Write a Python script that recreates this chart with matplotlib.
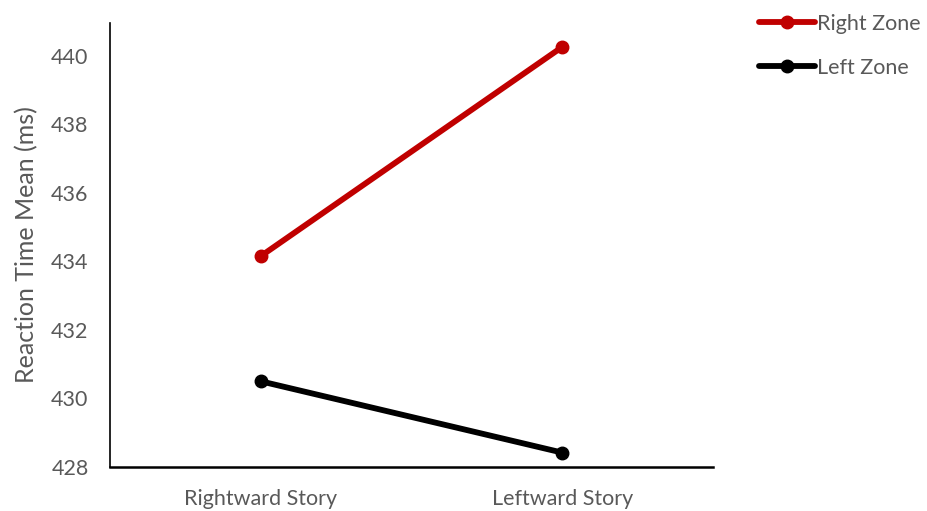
import matplotlib
matplotlib.use("Agg")
import matplotlib.pyplot as plt

categories = ["Rightward Story", "Leftward Story"]
right_zone = [434.15, 440.25]
left_zone = [430.5, 428.42]
y_ticks = [428, 430, 432, 434, 436, 438, 440]

text_color = "#595959"
plt.rcParams["font.family"] = ["Lato", "DejaVu Sans"]

fig = plt.figure(figsize=(9.27, 5.11), dpi=100)
ax = fig.add_axes([0.1187, 0.0861, 0.769 - 0.1187, 0.955 - 0.0861])

x = list(range(len(categories)))
ax.plot(x, right_zone, color="#C00000", lw=4.2, marker="o", ms=9, label="Right Zone",
        solid_capstyle="round")
ax.plot(x, left_zone, color="#000000", lw=4.2, marker="o", ms=9, label="Left Zone",
        solid_capstyle="round")

ax.set_xlim(-0.5, 1.5)
ax.set_ylim(428, 440.95)
ax.set_xticks(x)
ax.set_xticklabels(categories)
ax.set_yticks(y_ticks)
ax.tick_params(length=0, labelsize=15.5, colors=text_color)
ax.tick_params(axis="y", pad=15.5)
ax.tick_params(axis="x", pad=16)
ax.set_ylabel("Reaction Time Mean (ms)", fontsize=18, color=text_color, labelpad=9)

for side in ("top", "right"):
    ax.spines[side].set_visible(False)
ax.spines["left"].set_linewidth(1.2)
ax.spines["bottom"].set_linewidth(1.8)

leg = ax.legend(loc="upper left", bbox_to_anchor=(1.045, 1.065), frameon=False,
                fontsize=15.5, handlelength=2.6, handletextpad=0.1, labelspacing=1.13,
                labelcolor=text_color)

fig.savefig("out.png", dpi=100)
